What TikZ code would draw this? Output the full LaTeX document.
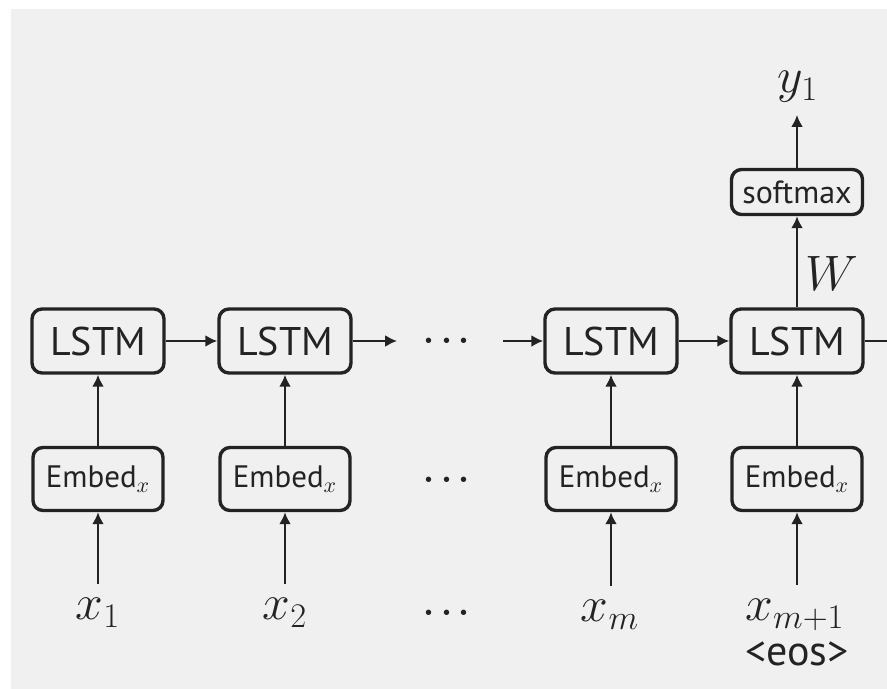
\documentclass[tikz,border=0pt]{standalone}
\usepackage{fontspec}
\usepackage{amsmath}
\usetikzlibrary{arrows.meta,positioning}
\newfontfamily\boxfont{PT Sans}
\definecolor{PaperGray}{RGB}{240,240,240}
\definecolor{InkGray}{RGB}{35,35,35}
\tikzset{
  cell/.style={draw=InkGray, line width=1.7pt, rounded corners=5pt, text=InkGray, inner sep=0pt,
    font=\boxfont\fontsize{20}{24}\selectfont, minimum width=66pt, minimum height=32pt},
  embedcell/.style={cell, font=\boxfont\fontsize{15.5}{18}\selectfont, minimum width=65pt, minimum height=31.5pt},
  softcell/.style={cell, font=\boxfont\fontsize{16}{19}\selectfont, minimum width=65.5pt, minimum height=22.5pt},
  mathlabel/.style={text=InkGray, font=\fontsize{26}{30}\selectfont, inner sep=0pt},
  dotslabel/.style={text=InkGray, font=\fontsize{17}{20}\selectfont\boldmath, inner ysep=0pt, inner xsep=13pt},
  flow/.style={-{Latex[length=6pt,width=6pt]}, line width=1.2pt, draw=InkGray},
  feed/.style={flow, shorten <=7pt}
}

\begin{document}
\begin{tikzpicture}[x=0.5pt, y=-0.5pt]
        \useasboundingbox (0,0) rectangle (887,689);
        \fill[white] (0,0) rectangle (887,689);
        \fill[PaperGray] (11,9) rectangle (887,689);
        % LSTM row
        \node[cell] (lstm1) at (98,341) {LSTM};
        \node[cell] (lstm2) at (285,341) {LSTM};
        \node[dotslabel] (hdots) at (450,341) {$\cdots$};
        \node[cell] (lstm3) at (611,341) {LSTM};
        \node[cell] (lstm4) at (797,341) {LSTM};
        \coordinate (exit) at (887,341);
        % embedding row
        \node[embedcell] (embed1) at (98,479) {Embed$_x$};
        \node[embedcell] (embed2) at (285,479) {Embed$_x$};
        \node[dotslabel] (edots) at (450,480) {$\cdots$};
        \node[embedcell] (embed3) at (611,479) {Embed$_x$};
        \node[embedcell] (embed4) at (797,479) {Embed$_x$};
        % inputs
        \node[mathlabel] (x1) at (98,613) {$x_1$};
        \node[mathlabel] (x2) at (285,613) {$x_2$};
        \node[dotslabel] (xdots) at (450,613) {$\cdots$};
        \node[mathlabel] (xm) at (610,615) {$x_m$};
        \node[mathlabel] (xm1) at (795,615) {$x_{m+1}$};
        \node[text=InkGray, font=\boxfont\fontsize{21}{24}\selectfont, inner sep=0pt] (eos) at (797,654) {<eos>};
        % output
        \node[softcell] (soft) at (797,192) {softmax};
        \node[mathlabel] (y1) at (798,87) {$y_1$};
        \node[mathlabel] (wlabel) at (832,273) {$W$};
        % connectors
        \draw[flow] (lstm1.east) -- (lstm2.west);
        \draw[flow] (lstm2.east) -- (hdots.west);
        \draw[flow] (hdots.east) -- (lstm3.west);
        \draw[flow] (lstm3.east) -- (lstm4.west);
        \draw[line width=1.2pt, InkGray] (lstm4.east) -- (exit);
        \draw[flow] (embed1.north) -- (lstm1.south);
        \draw[flow] (embed2.north) -- (lstm2.south);
        \draw[flow] (embed3.north) -- (lstm3.south);
        \draw[flow] (embed4.north) -- (lstm4.south);
        \draw[feed] (x1.north -| embed1.south) -- (embed1.south);
        \draw[feed] (x2.north -| embed2.south) -- (embed2.south);
        \draw[feed] (xm.north -| embed3.south) -- (embed3.south);
        \draw[feed] (xm1.north -| embed4.south) -- (embed4.south);
        \draw[flow] (lstm4.north) -- (soft.south);
        \draw[flow, shorten >=6pt] (soft.north) -- (y1.south -| soft.north);
      \end{tikzpicture}
\end{document}
